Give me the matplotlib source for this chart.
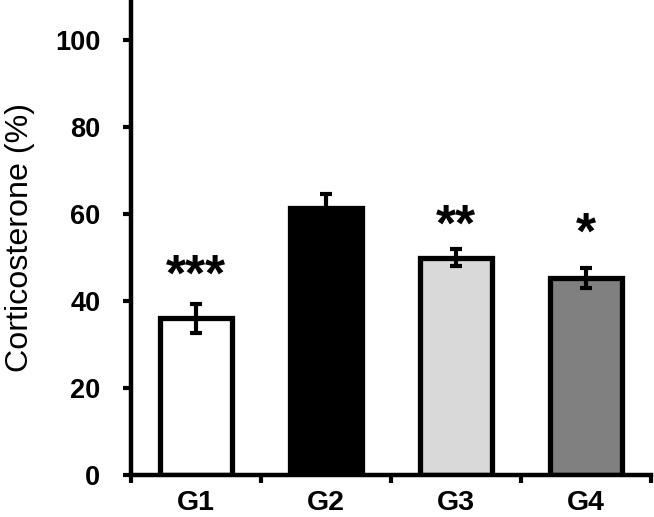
import matplotlib
matplotlib.use("Agg")
import matplotlib.pyplot as plt
import numpy as np

# values
groups = ["G1", "G2", "G3", "G4"]
means = [36.0, 61.3, 50.0, 45.3]
errors = [3.3, 3.3, 1.9, 2.4]
colors = ["#ffffff", "#000000", "#d9d9d9", "#808080"]
stars = ["***", "", "**", "*"]
star_y = [42.3, 0, 53.9, 52.1]
yticks = [0, 20, 40, 60, 80, 100]

plt.rcParams["font.family"] = ["Liberation Sans", "DejaVu Sans"]

fig = plt.figure(figsize=(6.54, 5.17), dpi=100)
ax = fig.add_axes([131 / 654, 42 / 517, 520 / 654, 475 / 517])

x = np.arange(len(groups))
ax.bar(x, means, width=0.56, color=colors, edgecolor="black",
       linewidth=3.8, zorder=2)
ax.errorbar(x, means, yerr=errors, fmt="none", ecolor="black",
            elinewidth=3, capsize=4.5, capthick=3, zorder=3)

for xi, s, sy in zip(x, stars, star_y):
    if s:
        ax.text(xi, sy, s, ha="center", va="baseline", fontsize=37,
                fontweight="bold")

ax.set_xlim(-0.5, 3.5)
ax.set_ylim(0, 109.2)

for side in ["top", "right"]:
    ax.spines[side].set_visible(False)
for side in ["left", "bottom"]:
    ax.spines[side].set_linewidth(3.2)

ax.set_yticks(yticks)
ax.set_yticklabels([str(v) for v in yticks], fontsize=19.5, fontweight="bold")
ax.tick_params(axis="y", direction="out", length=6, width=3, pad=16)

ax.set_xticks([-0.5, 0.5, 1.5, 2.5, 3.5])
ax.set_xticklabels([])
ax.tick_params(axis="x", which="major", direction="out", length=6, width=3)
ax.set_xticks(x, minor=True)
ax.set_xticklabels(groups, minor=True, fontsize=20.5, fontweight="bold")
ax.tick_params(axis="x", which="minor", length=0, pad=11)

ax.set_ylabel("Corticosterone (%)", fontsize=23.2, labelpad=14.5)

fig.savefig("out.png", dpi=100)
